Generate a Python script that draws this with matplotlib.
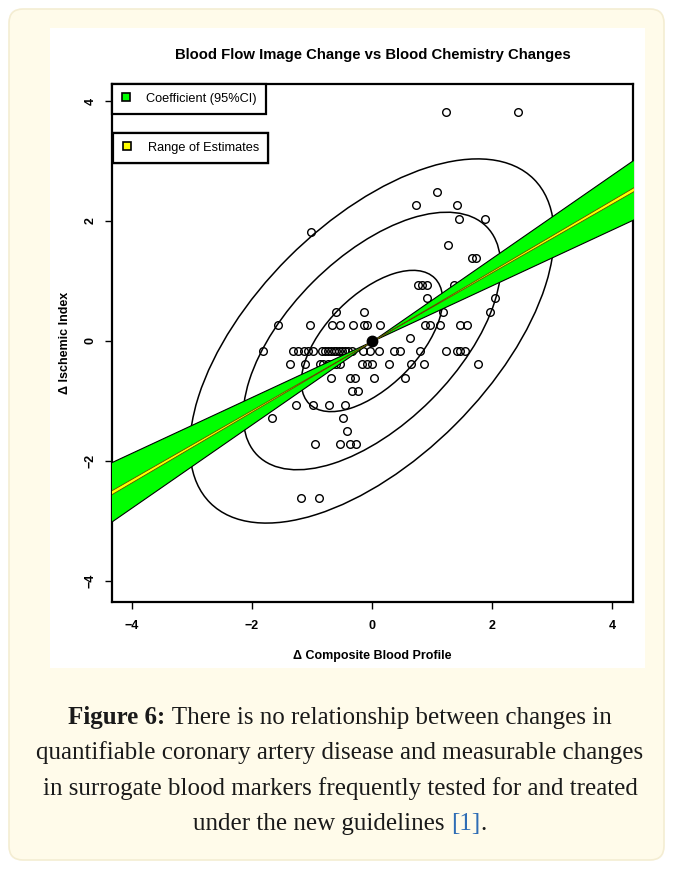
"""Figure 6: blood flow image change vs blood chemistry changes."""

import matplotlib
matplotlib.use("Agg")
import matplotlib.pyplot as plt
import numpy as np
from matplotlib.lines import Line2D
from matplotlib.patches import Ellipse, FancyBboxPatch, Rectangle
from matplotlib.transforms import IdentityTransform

plt.rcParams["font.family"] = ["Liberation Sans", "DejaVu Sans"]

W, H = 673, 869

# scatter points, grouped by row of equal ischemic-index change
row_ischemic = [3.82, 2.49, 2.27, 2.04, 1.82, 1.60, 1.39, 0.93, 0.71, 0.49, 0.27,
                0.05, -0.17, -0.39, -0.61, -0.83, -1.06, -1.28, -1.50, -1.72, -2.61]
row_blood = [
    [1.23, 2.44],
    [1.08],
    [0.73, 1.41],
    [1.45, 1.88],
    [-1.02],
    [1.26],
    [1.66, 1.74],
    [0.76, 0.83, 0.91, 1.37],
    [0.91, 2.05],
    [-0.60, -0.14, 1.19, 1.97],
    [-1.57, -1.03, -0.67, -0.53, -0.31, -0.14, -0.08, 0.13, 0.88, 0.97, 1.14, 1.47, 1.58],
    [0.63],
    [-1.82, -1.31, -1.23, -1.14, -1.06, -0.98, -0.84, -0.78, -0.73, -0.69, -0.64, -0.60,
     -0.55, -0.50, -0.45, -0.40, -0.34, -0.15, -0.04, 0.12, 0.36, 0.47, 0.80, 1.24,
     1.41, 1.47, 1.55],
    [-1.37, -1.12, -0.87, -0.81, -0.74, -0.67, -0.60, -0.53, -0.17, -0.09, 0.00, 0.29,
     0.65, 0.87, 1.76],
    [-0.68, -0.37, -0.28, 0.04, 0.55],
    [-0.33, -0.24],
    [-1.27, -0.98, -0.71, -0.45],
    [-1.67, -0.48],
    [-0.41],
    [-0.95, -0.54, -0.36, -0.27],
    [-1.19, -0.88],
]

# bivariate summary (standardised data) and the fitted slope ranges
center = (0.0, 0.0)
sd_blood, sd_ischemic, rho = 1.0, 1.0, 0.58
ellipse_levels = [0.50, 0.90, 0.99]
coef_ci = (0.465, 0.693)
estimate_range = (0.573, 0.588)

legend_labels = ["Coefficient (95%CI)", "Range of Estimates"]
caption = [
    [("Figure 6:", "bold", "#1a1a1a"), (" There is no relationship between changes in", "normal", "#1a1a1a")],
    [("quantifiable coronary artery disease and measurable changes", "normal", "#1a1a1a")],
    [("in surrogate blood markers frequently tested for and treated", "normal", "#1a1a1a")],
    [("under the new guidelines ", "normal", "#1a1a1a"), ("[1]", "normal", "#2f6db5"),
     (".", "normal", "#1a1a1a")],
]

xs = np.concatenate([np.array(r) for r in row_blood])
ys = np.concatenate([[y] * len(r) for y, r in zip(row_ischemic, row_blood)])

fig = plt.figure(figsize=(W / 100, H / 100), dpi=100)
fig.patch.set_facecolor("white")
px = IdentityTransform()

# page card and white chart panel (behind the axes)
fig.patches.append(FancyBboxPatch((9, 9), W - 18, H - 18, boxstyle="round,pad=0,rounding_size=14",
                                  transform=px, facecolor="#fffbea", edgecolor="#f4edd2", lw=1.2,
                                  zorder=-2))
fig.patches.append(Rectangle((50, H - 668), 595, 640, transform=px, facecolor="white",
                             edgecolor="none", zorder=-1))

ax = fig.add_axes([112 / W, (H - 602) / H, 521 / W, 518 / H])
ax.set_xlim(-4.333, 4.35)
ax.set_ylim(-4.35, 4.283)

# concentric data ellipses
cov = np.array([[sd_blood ** 2, rho * sd_blood * sd_ischemic],
                [rho * sd_blood * sd_ischemic, sd_ischemic ** 2]])
vals, vecs = np.linalg.eigh(cov)
angle = np.degrees(np.arctan2(vecs[1, 1], vecs[0, 1]))
for p in ellipse_levels:
    c = np.sqrt(-2 * np.log(1 - p))
    ax.add_patch(Ellipse(center, 2 * c * np.sqrt(vals[1]), 2 * c * np.sqrt(vals[0]), angle=angle,
                         fill=False, edgecolor="black", lw=1.1, zorder=2))

ax.plot(xs, ys, "o", ms=5.5, mfc="none", mec="black", mew=1.0, zorder=3)

xx = np.array([-5.0, 0.0, 5.0])
ax.fill_between(xx, coef_ci[0] * xx, coef_ci[1] * xx, facecolor="#00ff00", edgecolor="black",
                lw=0.8, zorder=4)
ax.fill_between(xx, estimate_range[0] * xx, estimate_range[1] * xx, facecolor="#ffff00",
                edgecolor="#5a5000", lw=0.6, zorder=5)
ax.plot(*center, "o", ms=7.5, color="black", zorder=6)

for s in ax.spines.values():
    s.set_linewidth(1.6)
ax.set_xticks([-4, -2, 0, 2, 4])
ax.set_yticks([-4, -2, 0, 2, 4])
ax.tick_params(direction="out", length=5, width=1, labelsize=9)
ax.tick_params(axis="x", pad=8)
ax.tick_params(axis="y", pad=6)
for lab in ax.get_xticklabels() + ax.get_yticklabels():
    lab.set_fontweight("bold")
for lab in ax.get_yticklabels():
    lab.set_rotation(90)
    lab.set_va("center")

ax.set_title("Blood Flow Image Change vs Blood Chemistry Changes", fontsize=10.7,
             fontweight="bold", pad=18)
ax.set_xlabel("Δ Composite Blood Profile", fontsize=9, fontweight="bold", labelpad=13)
ax.set_ylabel("Δ Ischemic Index", fontsize=9, fontweight="bold", labelpad=10)

# two separate legend boxes
handles = [Line2D([], [], marker="s", ls="none", mfc=fc, mec="black", ms=6, mew=1.2)
           for fc in ("#00ff00", "#ffff00")]
anchors = [(0.0, 1.0), (0.002, (602 - 133) / 518)]
for h, lab, anc in zip(handles, legend_labels, anchors):
    leg = ax.legend([h], [lab], loc="upper left", bbox_to_anchor=anc, borderaxespad=0,
                    fancybox=False, edgecolor="black", framealpha=1, fontsize=9.2,
                    handlelength=0.8, handletextpad=1.2, borderpad=0.7)
    leg.get_frame().set_linewidth(1.6)
    leg.set_zorder(10)
    ax.add_artist(leg)

# caption, each line centred, mixed styles per segment
renderer = fig.canvas.get_renderer()
baselines = [724, 759, 795, 830]
for line, yb in zip(caption, baselines):
    texts = [fig.text(0, H - yb, s, transform=px, fontsize=18, fontweight=w, color=col,
                      family=["Liberation Serif", "DejaVu Serif"], va="baseline")
             for s, w, col in line]
    widths = [t.get_window_extent(renderer).width for t in texts]
    x0 = 340 - sum(widths) / 2
    for t, w in zip(texts, widths):
        t.set_x(x0)
        x0 += w

fig.savefig("out.png", dpi=100)
